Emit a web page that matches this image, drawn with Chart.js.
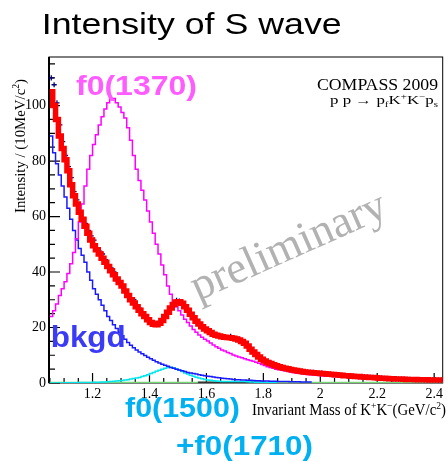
<!DOCTYPE html>
<html>
<head>
<meta charset="utf-8">
<script src="https://cdn.jsdelivr.net/npm/chart.js"></script>
<style>
  html, body { margin: 0; padding: 0; background: #fff; }
  #wrap { width: 448px; height: 462px; position: relative; }
</style>
</head>
<body>
<div id="wrap"><canvas id="s_wave"></canvas></div>
<script>
// K+K- invariant mass, 10 MeV bins starting at 1.05 GeV
const binLow = 1.05;
const binWidth = 0.01;

// measured intensity (data points)
const measured = [
  110, 107.5, 101, 93, 87, 82, 78, 74, 69, 66,
  62, 59.5, 57.5, 55, 53, 51.5, 48.5, 47.5, 46.5, 44.5,
  42.5, 41.5, 40, 38, 36.5, 34.5, 33, 32, 30.5, 30,
  28, 27, 25.5, 24.5, 23, 22, 21.5, 21, 21.8, 22.3,
  24.5, 25.5, 27.5, 28.5, 29.8, 29.5, 29, 27.8, 26.5, 25.2,
  23.5, 22.5, 21.6, 20.2, 19.7, 19.2, 18.2, 17.7, 17.4, 17,
  16.5, 16.6, 16.4, 16.8, 16.2, 16, 15.8, 15.2, 14.5, 13.2,
  12.5, 11.3, 10.5, 9.6, 8.8, 8.2, 7.5, 7.2, 6.8, 6.4,
  6, 5.8, 5.5, 5.2, 5, 4.8, 4.5, 4.4, 4.2, 4.1,
  3.9, 3.8, 3.8, 3.6, 3.5, 3.6, 3.4, 3.2, 3.2, 3,
  3, 2.9, 2.7, 2.7, 2.6, 2.5, 2.5, 2.3, 2.3, 2.2,
  2.2, 2.1, 2, 2, 1.9, 1.8, 1.8, 1.7, 1.6, 1.6,
  1.5, 1.5, 1.4, 1.4, 1.3, 1.3, 1.3, 1.25, 1.25, 1.2,
  1.2, 1.15, 1.15, 1.1, 1.1, 1.1, 1.05, 1.05
];

// total fit
const fitTotal = [
  105, 100, 95, 89, 84.5, 80.5, 76.5, 71.5, 67.5, 64.5,
  61.5, 59, 56.5, 54, 51.5, 49.5, 48, 46.5, 45, 43.5,
  42, 40.5, 39, 37.5, 36.2, 35, 33.2, 31.5, 30, 28.8,
  27.5, 26.2, 25, 24, 22.8, 21.8, 21.2, 21, 21.5, 22.5,
  24, 25.5, 27, 28.3, 29.2, 29.3, 28.7, 27.5, 26.2, 24.8,
  23.5, 22.3, 21.3, 20.3, 19.5, 18.8, 18.2, 17.6, 17.2, 16.9,
  16.7, 16.5, 16.4, 16.3, 16.1, 15.9, 15.5, 15, 14.3, 13.3,
  12.2, 11.2, 10.3, 9.4, 8.6, 7.9, 7.4, 7, 6.6, 6.2,
  5.9, 5.6, 5.3, 5.1, 4.9, 4.7, 4.5, 4.3, 4.1, 4,
  3.9, 3.8, 3.7, 3.6, 3.5, 3.45, 3.35, 3.25, 3.15, 3.05,
  2.95, 2.85, 2.75, 2.65, 2.6, 2.5, 2.45, 2.35, 2.3, 2.2,
  2.15, 2.1, 2, 1.95, 1.9, 1.8, 1.75, 1.7, 1.6, 1.55,
  1.5, 1.45, 1.4, 1.4, 1.35, 1.3, 1.3, 1.25, 1.25, 1.2,
  1.2, 1.15, 1.15, 1.1, 1.1, 1.1, 1.05, 1.05
];

// f0(1370) component
const f0_1370 = [
  24, 26, 28.5, 31.5, 34, 36.5, 39.5, 43, 47, 52,
  58, 64.5, 71, 77, 82, 86, 89.5, 93, 96, 98.8,
  101, 102.5, 102.5, 101, 99.5, 97.5, 95.5, 92, 87.5, 82,
  77, 73, 69.5, 66, 62, 58, 54, 50, 46.5, 42.5,
  39, 35, 32, 29.5, 27.5, 26, 24.5, 23, 21.8, 20.5,
  19.3, 18.3, 17.3, 16.5, 15.8, 15.1, 14.4, 13.7, 13.1, 12.5,
  11.9, 11.5, 11, 10.6, 10.1, 9.7, 9.4, 9.1, 8.7, 8.4,
  8.1, 7.8, 7.5, 7.1, 6.7, 6.3, 5.9, 5.6, 5.3, 5,
  4.8, 4.6, 4.4, 4.2, 4, 3.8, 3.6, 3.5, 3.35, 3.2,
  3.1, 3, 2.9, 2.8, 2.7, 2.6, 2.5, 2.45, 2.4, 2.35,
  2.3, 2.25, 2.2, 2.15, 2.1, 2.05, 2, 1.95, 1.9, 1.85,
  1.8, 1.78, 1.75, 1.7, 1.68, 1.65, 1.6, 1.58, 1.55, 1.5,
  1.48, 1.45, 1.42, 1.4, 1.37, 1.35, 1.32, 1.3, 1.27, 1.25,
  1.22, 1.2, 1.18, 1.15, 1.13, 1.1, 1.08, 1.05
];

// non-resonant background
const bkgd = [
  89, 83, 79, 75, 71, 67, 63, 59, 55, 51.5,
  48.5, 46, 43.5, 40, 37, 34, 32, 30, 28, 26,
  24, 22.5, 21, 19.6, 18.3, 17, 15.8, 14.6, 13.6, 12.7,
  11.9, 11.2, 10.5, 9.9, 9.3, 8.7, 8.2, 7.7, 7.2, 6.8,
  6.4, 6, 5.6, 5.3, 5, 4.7, 4.4, 4.1, 3.8, 3.6,
  3.4, 3.2, 3, 2.8, 2.6, 2.45, 2.3, 2.15, 2, 1.85,
  1.7, 1.6, 1.5, 1.4, 1.3, 1.2, 1.15, 1.1, 1.05, 1,
  0.95, 0.9, 0.85, 0.8, 0.75, 0.7, 0.68, 0.65, 0.62, 0.6,
  0.58, 0.55, 0.52, 0.5, 0.48, 0.46, 0.44, 0.42, 0.4, 0.38,
  0.36, 0.34
];

// f0(1500) + f0(1710)
const f0_1500 = [
  0, 0, 0, 0, 0, 0.05, 0.05, 0.1, 0.1, 0.12,
  0.15, 0.15, 0.18, 0.2, 0.22, 0.25, 0.28, 0.3, 0.35, 0.4,
  0.45, 0.5, 0.6, 0.7, 0.8, 0.9, 1.05, 1.2, 1.4, 1.6,
  1.8, 2, 2.3, 2.6, 3, 3.4, 3.8, 4.2, 4.6, 5,
  5.3, 5.6, 5.7, 5.5, 5.1, 4.6, 4.1, 3.6, 3.2, 2.8,
  2.4, 2.1, 1.8, 1.55, 1.3, 1.1, 0.95, 0.8, 0.7, 0.6,
  0.55, 0.5, 0.5, 0.5, 0.55, 0.55, 0.55, 0.5, 0.5, 0.45,
  0.4, 0.35, 0.3, 0.25, 0.2, 0.15, 0.12, 0.1, 0.08, 0.05
];

// small components lying on the axis
const otherMass = [1.57, 1.65, 1.73, 1.81];
const otherWave = [0.15, 0.2, 0.2, 0.15];
const flatMass = [1.05, 2.43];
const flatWave = [0.05, 0.05];

const massTicks = [1.2, 1.4, 1.6, 1.8, 2.0, 2.2, 2.4];
const massTickLabels = ['1.2', '1.4', '1.6', '1.8', '2', '2.2', '2.4'];
const intensityTicks = [0, 20, 40, 60, 80, 100];
const intensityTickLabels = ['0', '20', '40', '60', '80', '100'];

// histogram outline: one point per lower bin edge plus the closing edge
function histPoints(vals) {
  const pts = vals.map((v, i) => ({ x: binLow + i * binWidth, y: v }));
  pts.push({ x: binLow + vals.length * binWidth, y: vals[vals.length - 1] });
  return pts;
}

function drawRuns(ctx, runs, x, y, o) {
  const fam = o.family || '"Liberation Serif", "Times New Roman", serif';
  const weight = o.weight || 'normal';
  const pieces = runs.map(([t, kind]) => {
    const s = kind ? o.size * 0.65 : o.size;
    ctx.font = weight + ' ' + s + 'px ' + fam;
    const dy = kind === 'sup' ? -o.size * 0.4 : (kind === 'sub' ? o.size * 0.25 : 0);
    return { t, s, dy, w: ctx.measureText(t).width };
  });
  const natural = pieces.reduce((a, p) => a + p.w, 0);
  const sx = o.width ? o.width / natural : 1;
  ctx.save();
  ctx.translate(x, y);
  ctx.scale(sx, 1);
  ctx.fillStyle = o.color || '#000';
  ctx.textAlign = 'left';
  ctx.textBaseline = 'alphabetic';
  let cx = 0;
  pieces.forEach(p => {
    ctx.font = weight + ' ' + p.s + 'px ' + fam;
    ctx.fillText(p.t, cx, p.dy);
    cx += p.w;
  });
  ctx.restore();
}

const sans = '"Liberation Sans", Arial, sans-serif';

const frameAndText = {
  id: 'frameAndText',
  beforeDatasetsDraw(chart) {
    const { ctx, chartArea: a, scales: { x, y } } = chart;
    ctx.save();
    ctx.strokeStyle = '#000';
    ctx.lineWidth = 1;
    ctx.strokeRect(a.left, a.top, a.right - a.left, a.bottom - a.top);
    ctx.lineWidth = 2;
    ctx.beginPath();
    ctx.moveTo(a.left, a.top);
    ctx.lineTo(a.left, a.bottom);
    ctx.stroke();
    // ticks drawn inside the frame
    ctx.lineWidth = 1.2;
    ctx.beginPath();
    for (let k = 21; k <= 48; k++) {
      const m = k * 0.05;
      const major = massTicks.some(t => Math.abs(t - m) < 1e-6);
      const px = x.getPixelForValue(m);
      ctx.moveTo(px, a.bottom);
      ctx.lineTo(px, a.bottom - (major ? 10 : 5));
    }
    for (let v = 0; v < y.max; v += 5) {
      const py = y.getPixelForValue(v);
      ctx.moveTo(a.left, py);
      ctx.lineTo(a.left + (v % 20 === 0 ? 11 : 6), py);
    }
    ctx.stroke();
    ctx.restore();
  },
  afterDraw(chart) {
    const { ctx } = chart;
    drawRuns(ctx, [['Intensity of S wave', '']], 41.7, 33.5, { size: 30, family: sans, width: 300 });

    // watermark
    ctx.save();
    ctx.translate(198, 301);
    ctx.rotate(-24 * Math.PI / 180);
    ctx.font = '45px "Liberation Serif", "Times New Roman", serif';
    ctx.fillStyle = '#b2b2b2';
    ctx.fillText('preliminary', 0, 0);
    ctx.restore();

    drawRuns(ctx, [['COMPASS 2009', '']], 317, 90, { size: 17, width: 121 });
    drawRuns(ctx, [['p p \u2192 p', ''], ['f', 'sub'], ['K', ''], ['+', 'sup'], ['K', ''], ['\u2212', 'sup'], ['p', ''], ['s', 'sub']],
      330, 104, { size: 12, width: 108 });

    // axis titles
    drawRuns(ctx, [['Invariant Mass of K', ''], ['+', 'sup'], ['K', ''], ['\u2212', 'sup'], ['(GeV/c', ''], ['2', 'sup'], [')', '']],
      252, 415, { size: 16, width: 194 });
    ctx.save();
    ctx.translate(25, 213);
    ctx.rotate(-Math.PI / 2);
    drawRuns(ctx, [['Intensity / (10MeV/c', ''], ['2', 'sup'], [')', '']], 0, 0, { size: 15, width: 134 });
    ctx.restore();

    // component labels
    drawRuns(ctx, [['f0(1370)', '']], 76, 95, { size: 28, weight: 'bold', family: sans, width: 121, color: '#ff5cff' });
    drawRuns(ctx, [['bkgd', '']], 50.7, 347, { size: 30, weight: 'bold', family: sans, width: 75, color: '#3b3bf5' });
    drawRuns(ctx, [['f0(1500)', '']], 125, 417, { size: 28, weight: 'bold', family: sans, width: 115, color: '#00b0f0' });
    drawRuns(ctx, [['+f0(1710)', '']], 176, 455, { size: 28, weight: 'bold', family: sans, width: 137, color: '#00b0f0' });
  }
};

const stepLine = (label, vals, color, width) => ({
  label: label,
  data: histPoints(vals),
  borderColor: color,
  borderWidth: width,
  stepped: 'before',
  pointRadius: 0,
  fill: false
});

const config_s_wave = {
  type: 'line',
  data: {
    datasets: [
      stepLine('Fit', fitTotal, '#ff0000', 5.5),
      {
        label: 'Data',
        data: measured.map((v, i) => ({ x: binLow + (i + 0.5) * binWidth, y: v })),
        showLine: false,
        pointStyle: 'cross',
        pointRadius: 2.6,
        pointBorderWidth: 1.3,
        pointBorderColor: '#00007a',
        borderColor: '#00007a'
      },
      stepLine('f0(1370)', f0_1370, '#ff00ff', 1.5),
      stepLine('bkgd', bkgd, '#1a1aff', 1.5),
      stepLine('f0(1500)+f0(1710)', f0_1500, '#00e8ee', 1.5),
      {
        label: 'other',
        data: otherMass.map((m, i) => ({ x: m, y: otherWave[i] })),
        borderColor: '#333333', borderWidth: 2, pointRadius: 0
      },
      {
        label: 'flat',
        data: flatMass.map((m, i) => ({ x: m, y: flatWave[i] })),
        borderColor: '#74d874', borderWidth: 2, pointRadius: 0
      }
    ]
  },
  options: {
    responsive: true,
    maintainAspectRatio: false,
    animation: false,
    layout: { padding: { top: 57, right: 2.5, left: 0, bottom: 0 } },
    plugins: { legend: { display: false }, tooltip: { enabled: false } },
    elements: { line: { tension: 0 } },
    scales: {
      x: {
        type: 'linear',
        min: 1.047,
        max: 2.43,
        grid: { display: false, drawTicks: false },
        border: { display: false },
        ticks: {
          color: '#000',
          font: { family: '"Liberation Serif", "Times New Roman", serif', size: 14 },
          padding: 3,
          maxRotation: 0,
          autoSkip: false,
          callback: (v, i) => massTickLabels[i]
        },
        afterBuildTicks: s => { s.ticks = massTicks.map(v => ({ value: v })); },
        afterFit: s => { s.height = 79; s.paddingLeft = 0; s.paddingRight = 0; }
      },
      y: {
        min: 0,
        max: 117.5,
        grid: { display: false, drawTicks: false },
        border: { display: false },
        ticks: {
          color: '#000',
          font: { family: '"Liberation Serif", "Times New Roman", serif', size: 14 },
          padding: 3,
          callback: (v, i) => intensityTickLabels[i]
        },
        afterBuildTicks: s => { s.ticks = intensityTicks.map(v => ({ value: v })); },
        afterFit: s => { s.width = 49; s.paddingTop = 0; s.paddingBottom = 0; }
      }
    }
  },
  plugins: [frameAndText]
};

const s_wave_Chart = new Chart(document.getElementById('s_wave'), config_s_wave);
</script>
</body>
</html>
